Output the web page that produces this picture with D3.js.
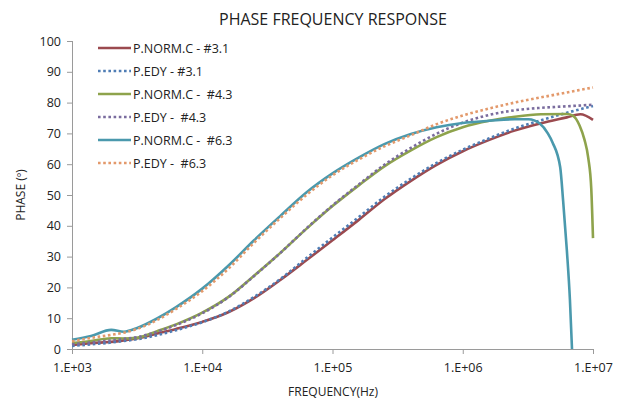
<!DOCTYPE html>
<html>
<head>
<meta charset="utf-8">
<script src="https://cdn.jsdelivr.net/npm/d3@7"></script>
<style>
  body { margin: 0; background: #fff; }
  svg text { font-family: 'Open Sans', 'Noto Sans', sans-serif; fill: #222; }
</style>
</head>
<body>
<div id="chart"></div>
<script>
// frequencies (Hz) shared by the smooth part of each curve
const freqs = [1000, 1400, 2000, 2500, 3200, 4500, 6300, 10000, 16000, 25000, 40000, 63000,
  100000, 160000, 250000, 400000, 630000, 1000000, 1600000, 2500000, 4000000, 6300000, 10000000]

// measured curves (P.NORM.C)
const norm31Freq = [1000, 1400, 2000, 2500, 3200, 4500, 6300, 10000, 12600, 16000, 25000, 40000, 63000,
  100000, 160000, 250000, 400000, 630000, 1000000, 1600000, 2500000, 4000000, 6300000, 8000000, 10000000]
const norm31 = [1.3, 1.9, 2.3, 2.8, 3.5, 5.0, 6.5, 8.8, 10.2, 12.0, 16.5, 22.5, 28.8,
  35.3, 42, 48.6, 54.6, 59.8, 64.2, 67.9, 70.9, 73.3, 75.2, 76.2, 74.4]

const norm43Freq = [1000, 1400, 2000, 2500, 3200, 4500, 6300, 10000, 16000, 25000, 40000, 63000,
  100000, 160000, 250000, 400000, 630000, 1000000, 1600000, 2500000, 4000000, 6300000,
  7000000, 7900000, 8600000, 9200000, 9700000, 10000000]
const norm43 = [1.9, 2.6, 3.5, 3.4, 3.7, 5.8, 8.0, 11.8, 17.0, 23.8, 31.3, 39.0,
  46.4, 53.2, 59.3, 64.5, 68.8, 72.0, 74.1, 75.4, 76.2, 76.3,
  75.8, 72.5, 68, 62, 52, 36]

const norm63Freq = [1000, 1400, 2000, 2500, 3200, 4500, 6300, 10000, 16000, 25000, 40000, 63000,
  100000, 160000, 250000, 400000, 630000, 1000000, 1600000, 2500000, 3200000, 3900000,
  4500000, 4900000, 5600000, 5900000, 6300000, 6650000, 6900000]
const norm63 = [3.0, 4.2, 6.2, 5.6, 6.9, 9.9, 13.6, 19.6, 27.2, 35.3, 43.3, 50.8,
  57.0, 62.2, 66.5, 69.8, 72.0, 73.4, 74.1, 74.6, 74.6, 73.2,
  70, 67, 59, 48, 32, 16, 0]

// model curves (P.EDY), sampled at freqs
const edy31 = [1.0, 1.5, 2.1, 2.6, 3.2, 4.5, 6.1, 8.7, 12.2, 16.9, 22.8, 29.5,
  36.2, 42.9, 49.4, 55.3, 60.4, 64.7, 68.4, 71.6, 74.3, 76.7, 78.9]
const edy43 = [1.5, 2.1, 2.8, 3.3, 3.9, 5.6, 7.8, 11.6, 16.9, 23.7, 31.3, 39.1,
  46.6, 53.5, 59.8, 65.3, 69.9, 73.5, 76.0, 77.5, 78.3, 78.8, 79.3]
const edy63 = [2.5, 3.6, 4.6, 5.3, 6.6, 9.4, 13.0, 18.8, 26.2, 34.5, 42.6, 50.0,
  56.4, 61.6, 65.8, 69.4, 73.0, 75.8, 78.1, 80.0, 81.7, 83.3, 84.9]

const seriesNames = ['P.NORM.C - #3.1', 'P.EDY - #3.1', 'P.NORM.C -  #4.3', 'P.EDY -  #4.3', 'P.NORM.C -  #6.3', 'P.EDY -  #6.3']
const xTicks = [1e3, 1e4, 1e5, 1e6, 1e7]
const xTickLabels = ['1.E+03', '1.E+04', '1.E+05', '1.E+06', '1.E+07']
const yTicks = [0, 10, 20, 30, 40, 50, 60, 70, 80, 90, 100]

const series = [
  { name: seriesNames[0], f: norm31Freq, v: norm31, color: '#9b4a4f', dotted: false },
  { name: seriesNames[1], f: freqs, v: edy31, color: '#4f7db5', dotted: true },
  { name: seriesNames[2], f: norm43Freq, v: norm43, color: '#8ea34c', dotted: false },
  { name: seriesNames[3], f: freqs, v: edy43, color: '#7a6c9e', dotted: true },
  { name: seriesNames[4], f: norm63Freq, v: norm63, color: '#4a99ad', dotted: false },
  { name: seriesNames[5], f: freqs, v: edy63, color: '#e3996b', dotted: true }
]

const margin = { top: 41, right: 29, bottom: 52, left: 72 }
const width = 622 - margin.left - margin.right
const height = 401 - margin.top - margin.bottom

const svgRoot = d3.select('#chart')
  .append('svg')
  .attr('width', 622)
  .attr('height', 401)

const svg = svgRoot.append('g')
  .attr('transform', 'translate(' + margin.left + ',' + margin.top + ')')

const x = d3.scaleLog().domain([1e3, 1e7]).range([0, width])
const y = d3.scaleLinear().domain([0, 100]).range([height, 0])

// title and axis titles
svgRoot.append('text')
  .attr('x', 333).attr('y', 25)
  .attr('text-anchor', 'middle')
  .style('font-size', '16px')
  .text('PHASE FREQUENCY RESPONSE')

svgRoot.append('text')
  .attr('x', 333).attr('y', 396)
  .attr('text-anchor', 'middle')
  .style('font-size', '12px')
  .text('FREQUENCY(Hz)')

svgRoot.append('text')
  .attr('transform', 'translate(25,195) rotate(-90)')
  .attr('text-anchor', 'middle')
  .style('font-size', '12px')
  .text('PHASE (º)')

// axes
const yAxis = d3.axisLeft(y).tickValues(yTicks).tickSize(5).tickPadding(6)
const yg = svg.append('g').attr('class', 'y-axis').call(yAxis)

const xAxis = d3.axisBottom(x).tickValues(xTicks)
  .tickFormat((d, i) => xTickLabels[i]).tickSize(5).tickPadding(9)
const xg = svg.append('g').attr('class', 'x-axis')
  .attr('transform', 'translate(0,' + height + ')')
  .call(xAxis)

svg.selectAll('.domain').attr('stroke', '#9a9a9a')
svg.selectAll('.tick line').attr('stroke', '#9a9a9a')
svg.selectAll('.tick text').style('font-size', '12.5px').attr('fill', '#222')
yg.select('.domain').attr('d', 'M0.5,0V' + height)
xg.select('.domain').attr('d', 'M0,0.5H' + width)

// curves
const line = d3.line()
  .x(d => x(d[0]))
  .y(d => y(d[1]))
  .curve(d3.curveMonotoneX)

series.forEach(s => {
  const pts = s.f.map((f, i) => [f, s.v[i]])
  svg.append('path')
    .datum(pts)
    .attr('fill', 'none')
    .attr('stroke', s.color)
    .attr('stroke-width', 2.6)
    .attr('stroke-dasharray', s.dotted ? '2.6,2.6' : null)
    .attr('d', line)
})

// legend
const legend = svgRoot.append('g').attr('transform', 'translate(98,48)')
series.forEach((s, i) => {
  const g = legend.append('g').attr('transform', 'translate(0,' + i * 23 + ')')
  g.append('line')
    .attr('x1', 0).attr('x2', 33)
    .attr('stroke', s.color)
    .attr('stroke-width', 2.6)
    .attr('stroke-dasharray', s.dotted ? '2.6,2.6' : null)
  g.append('text')
    .attr('x', 35).attr('y', 4.5)
    .style('font-size', '12.5px')
    .style('white-space', 'pre')
    .text(s.name)
})
</script>
</body>
</html>
